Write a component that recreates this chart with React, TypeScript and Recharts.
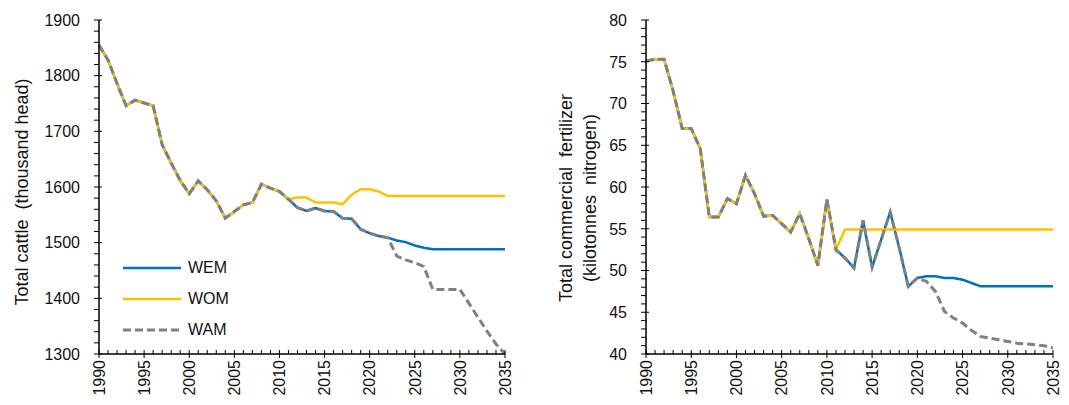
import { LineChart, Line, XAxis, YAxis, Legend } from 'recharts';

const FONT = '"Liberation Sans", Arial, sans-serif';
const TEXT = '#111';

// years on the x axis
const years = [
  1990, 1991, 1992, 1993, 1994, 1995, 1996, 1997, 1998, 1999, 2000, 2001, 2002, 2003, 2004, 2005,
  2006, 2007, 2008, 2009, 2010, 2011, 2012, 2013, 2014, 2015, 2016, 2017, 2018, 2019, 2020, 2021,
  2022, 2023, 2024, 2025, 2026, 2027, 2028, 2029, 2030, 2031, 2032, 2033, 2034, 2035,
];
const LAST_HIST = 2011;

// cattle, thousand head: history 1990-2011, then scenarios 2012-2035
const cattleHist = [
  1855, 1828, 1786, 1746, 1756, 1751, 1746, 1676, 1643, 1612, 1588, 1611, 1595, 1575, 1544, 1556,
  1568, 1572, 1605, 1598, 1592, 1578,
];
const cattleWEM = [
  1563, 1557, 1562, 1557, 1556, 1544, 1543, 1524, 1517, 1512, 1509, 1504, 1501, 1495, 1491, 1488,
  1488, 1488, 1488, 1488, 1488, 1488, 1488, 1488,
];
const cattleWOM = [
  1581, 1581, 1572, 1572, 1572, 1569, 1586, 1596, 1596, 1592, 1584, 1584, 1584, 1584, 1584, 1584,
  1584, 1584, 1584, 1584, 1584, 1584, 1584, 1584,
];
const cattleWAM = [
  1563, 1557, 1562, 1557, 1556, 1544, 1543, 1524, 1517, 1512, 1509, 1476, 1469, 1464, 1457, 1416,
  1416, 1416, 1416, 1391, 1366, 1341, 1318, 1300,
];

// fertilizer, kilotonnes N
const fertHist = [
  75.1, 75.3, 75.3, 71.5, 67.0, 67.0, 64.6, 56.4, 56.4, 58.6, 58.0, 61.4, 59.2, 56.5, 56.6, 55.6,
  54.6, 56.8, 53.8, 50.6, 58.5, 52.5,
];
const fertWEM = [
  51.5, 50.3, 56.0, 50.4, 53.7, 57.0, 52.7, 48.1, 49.1, 49.3, 49.3, 49.1, 49.1, 48.9, 48.5, 48.1,
  48.1, 48.1, 48.1, 48.1, 48.1, 48.1, 48.1, 48.1,
];
const fertWOM = [
  54.9, 54.9, 54.9, 54.9, 54.9, 54.9, 54.9, 54.9, 54.9, 54.9, 54.9, 54.9, 54.9, 54.9, 54.9, 54.9,
  54.9, 54.9, 54.9, 54.9, 54.9, 54.9, 54.9, 54.9,
];
const fertWAM = [
  51.5, 50.3, 56.0, 50.4, 53.7, 57.0, 52.7, 48.1, 49.1, 48.7, 47.5, 45.1, 44.3, 43.7, 42.8, 42.1,
  41.9, 41.7, 41.5, 41.3, 41.2, 41.1, 41.0, 40.7,
];

// tick values (labels only on the major ones)
const cattleTicks = [
  1300, 1320, 1340, 1360, 1380, 1400, 1420, 1440, 1460, 1480, 1500, 1520, 1540, 1560, 1580, 1600,
  1620, 1640, 1660, 1680, 1700, 1720, 1740, 1760, 1780, 1800, 1820, 1840, 1860, 1880, 1900,
];
const fertTicks = [
  40, 41, 42, 43, 44, 45, 46, 47, 48, 49, 50, 51, 52, 53, 54, 55, 56, 57, 58, 59, 60, 61, 62, 63, 64,
  65, 66, 67, 68, 69, 70, 71, 72, 73, 74, 75, 76, 77, 78, 79, 80,
];

const series = [
  { key: 'WEM', color: '#0070C0', width: 2.5, dash: undefined },
  { key: 'WOM', color: '#FFC000', width: 2.5, dash: undefined },
  { key: 'WAM', color: '#808080', width: 3, dash: '8 4' },
];

const buildRows = (hist: number[], wem: number[], wom: number[], wam: number[]) =>
  years.map((year, i) => {
    if (year <= LAST_HIST) return { year, WEM: hist[i], WOM: hist[i], WAM: hist[i] };
    const j = i - hist.length;
    return { year, WEM: wem[j], WOM: wom[j], WAM: wam[j] };
  });

const cattleData = buildRows(cattleHist, cattleWEM, cattleWOM, cattleWAM);
const fertData = buildRows(fertHist, fertWEM, fertWOM, fertWAM);

const XTick = (props: any) => {
  const { x, y, payload } = props;
  const v = payload.value;
  const major = v % 5 === 0;
  return (
    <g>
      <line x1={x} x2={x} y1={y - 4} y2={major ? y + 4 : y} stroke="#000" strokeWidth={1} />
      {major && (
        <text
          x={x}
          y={y + 6}
          dy="0.36em"
          transform={`rotate(-90, ${x}, ${y + 6})`}
          textAnchor="end"
          fontFamily={FONT}
          fontSize={16}
          fill={TEXT}
        >
          {v}
        </text>
      )}
    </g>
  );
};

const makeYTick = (majorStep: number) => (props: any) => {
  const { x, y, payload } = props;
  const v = payload.value;
  const major = v % majorStep === 0;
  return (
    <g>
      <line x1={x - 5} x2={major ? x + 3 : x} y1={y} y2={y} stroke="#000" strokeWidth={1} />
      {major && (
        <text x={x - 19} y={y} dy="0.36em" textAnchor="end" fontFamily={FONT} fontSize={16} fill={TEXT}>
          {v}
        </text>
      )}
    </g>
  );
};

const AxisTitle = ({ titleX, titleY, lines }: { titleX: number; titleY: number; lines: string[] }) => (
  <g transform={`rotate(-90, ${titleX}, ${titleY})`}>
    {lines.map((t, i) => (
      <text
        key={t}
        x={titleX}
        y={titleY + (i - (lines.length - 1) / 2) * 24}
        dy="0.36em"
        textAnchor="middle"
        fontFamily={FONT}
        fontSize={18}
        fill={TEXT}
        style={{ whiteSpace: 'pre' }}
      >
        {t}
      </text>
    ))}
  </g>
);

const LegendBox = () => (
  <div style={{ fontFamily: FONT, fontSize: 16, color: TEXT }}>
    {series.map((s) => (
      <div key={s.key} style={{ display: 'flex', alignItems: 'center', height: 31 }}>
        <svg width={58} height={10} style={{ display: 'block' }}>
          <line x1={0} x2={58} y1={5} y2={5} stroke={s.color} strokeWidth={s.width} strokeDasharray={s.dash} />
        </svg>
        <span style={{ marginLeft: 7 }}>{s.key}</span>
      </div>
    ))}
  </div>
);

const axisLine = { stroke: '#000', strokeWidth: 1.5 };
const border = { stroke: '#000', strokeWidth: 1 };

const renderLines = () =>
  series.map((s) => (
    <Line
      key={s.key}
      dataKey={s.key}
      type="linear"
      stroke={s.color}
      strokeWidth={s.width}
      strokeDasharray={s.dash}
      dot={false}
      activeDot={false}
      isAnimationActive={false}
    />
  ));

export default function App() {
  return (
    <div style={{ position: 'absolute', left: 0, top: 0, width: 1069, height: 405, background: '#fff' }}>
      <div style={{ position: 'absolute', left: 0, top: 0 }}>
        <LineChart width={530} height={405} data={cattleData} margin={{ top: 20, right: 25, left: 39, bottom: 0 }}>
          <XAxis
            dataKey="year"
            type="number"
            domain={[1990, 2035]}
            ticks={years}
            interval={0}
            height={51}
            tickSize={0}
            tickMargin={0}
            tickLine={false}
            axisLine={axisLine}
            tick={XTick}
          />
          <XAxis xAxisId="top" orientation="top" dataKey="year" type="number" domain={[1990, 2035]} height={0} tick={false} tickLine={false} axisLine={border} />
          <YAxis
            type="number"
            domain={[1300, 1900]}
            ticks={cattleTicks}
            interval={0}
            width={60}
            tickSize={0}
            tickMargin={0}
            tickLine={false}
            axisLine={axisLine}
            tick={makeYTick(100)}
            label={<AxisTitle titleX={22} titleY={192} lines={['Total cattle  (thousand head)']} />}
          />
          <YAxis yAxisId="right" orientation="right" domain={[1300, 1900]} width={0} tick={false} tickLine={false} axisLine={border} />
          {renderLines()}
          <Legend
            layout="vertical"
            align="center"
            verticalAlign="middle"
            content={() => <LegendBox />}
            wrapperStyle={{ position: 'absolute', left: 123, top: 252, width: 120, height: 93 }}
          />
        </LineChart>
      </div>
      <div style={{ position: 'absolute', left: 540, top: 0 }}>
        <LineChart width={529} height={405} data={fertData} margin={{ top: 20, right: 16, left: 46, bottom: 0 }}>
          <XAxis
            dataKey="year"
            type="number"
            domain={[1990, 2035]}
            ticks={years}
            interval={0}
            height={51}
            tickSize={0}
            tickMargin={0}
            tickLine={false}
            axisLine={axisLine}
            tick={XTick}
          />
          <XAxis xAxisId="top" orientation="top" dataKey="year" type="number" domain={[1990, 2035]} height={0} tick={false} tickLine={false} axisLine={border} />
          <YAxis
            type="number"
            domain={[40, 80]}
            ticks={fertTicks}
            interval={0}
            width={60}
            tickSize={0}
            tickMargin={0}
            tickLine={false}
            axisLine={axisLine}
            tick={makeYTick(5)}
            label={
              <AxisTitle
                titleX={38}
                titleY={198}
                lines={['Total commercial  fertilizer', '(kilotonnes  nitrogen)']}
              />
            }
          />
          <YAxis yAxisId="right" orientation="right" domain={[40, 80]} width={0} tick={false} tickLine={false} axisLine={border} />
          {renderLines()}
        </LineChart>
      </div>
    </div>
  );
}
